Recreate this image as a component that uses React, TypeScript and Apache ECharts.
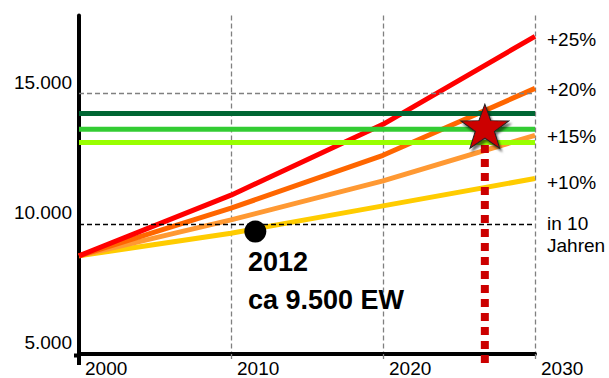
import React, { useEffect, useRef } from "react";
import * as echarts from "echarts";

// ---- data ----
const years = [2000, 2010, 2020, 2030];
const growth25 = [8770, 11100, 13820, 17200];
const growth20 = [8770, 10600, 12630, 15200];
const growth15 = [8770, 10150, 11650, 13400];
const growth10 = [8770, 9640, 10690, 11740];
const levelDark = 14240;
const levelMid = 13630;
const levelLight = 13120;
const currentPoint = [2011.6, 9700];
const currentLabels = ["2012", "ca 9.500 EW"];
const starPoint = [2026.7, 13750];
const dropLine = [
  [2026.7, 4650],
  [2026.7, 13050],
];
const rightLabels = ["+25%", "+20%", "+15%", "+10%", "in 10\nJahren"];
const yMin = 5000;
const yMax = 18000;
const yInterval = 5000;
const xMin = 2000;
const xMax = 2030;
const xInterval = 10;

const FONT = "'Liberation Sans', Arial, Helvetica, sans-serif";

function starPath(R: number, r: number): string {
  const pts: string[] = [];
  for (let i = 0; i < 10; i++) {
    const a = (-90 + i * 36) * (Math.PI / 180);
    const rad = i % 2 === 0 ? R : r;
    pts.push(`${(rad * Math.cos(a)).toFixed(2)} ${(rad * Math.sin(a)).toFixed(2)}`);
  }
  return "path://M" + pts.join(" L") + " Z";
}

function fmt(v: number): string {
  const s = String(Math.round(v));
  return s.replace(/\B(?=(\d{3})+(?!\d))/g, ".");
}

const zip = (ys: number[]) => years.map((y, i) => [y, ys[i]]);
const flat = (v: number) => [
  [xMin, v],
  [xMax, v],
];

export default function App() {
  const ref = useRef<HTMLDivElement>(null);
  useEffect(() => {
    if (!ref.current) return;
    const chart = echarts.init(ref.current, undefined, { renderer: "svg" });
    const lineSeries = (data: number[][], color: string, z = 2) => ({
      type: "line",
      data,
      symbol: "none",
      silent: true,
      z,
      lineStyle: { color, width: 5, cap: "butt", opacity: 1 },
    });
    chart.setOption({
      animation: false,
      textStyle: { fontFamily: FONT },
      grid: { left: 79, right: 74, top: 15.5, bottom: 22.5, containLabel: false },
      xAxis: {
        type: "value",
        min: xMin,
        max: xMax,
        interval: xInterval,
        axisLine: { show: true, lineStyle: { color: "#000", width: 4 } },
        axisTick: {
          show: true,
          length: 8,
          lineStyle: { color: "#808080", width: 1.3, type: [5, 3] },
        },
        splitLine: {
          show: true,
          lineStyle: { color: "#808080", width: 1.3, type: [5, 3] },
        },
        axisLabel: {
          show: true,
          color: "#000",
          fontSize: 19,
          fontFamily: FONT,
          align: "left",
          margin: 5,
          padding: [0, 0, 0, 6],
          formatter: (v: number) => String(v),
          showMinLabel: true,
          showMaxLabel: true,
        },
      },
      yAxis: {
        type: "value",
        min: yMin,
        max: yMax,
        interval: yInterval,
        axisLine: { show: true, lineStyle: { color: "#000", width: 4 } },
        axisTick: { show: false },
        splitLine: { show: false },
        axisLabel: {
          show: true,
          color: "#000",
          fontSize: 19,
          fontFamily: FONT,
          margin: 7,
          verticalAlign: "bottom",
          padding: [0, 0, 2, 0],
          showMaxLabel: false,
          formatter: (v: number) => (v === yMax ? "" : fmt(v)),
        },
      },
      series: [
        {
          type: "line",
          data: [],
          silent: true,
          z: 1,
          markLine: {
            silent: true,
            symbol: "none",
            label: { show: false },
            data: [
              { yAxis: 15000, lineStyle: { color: "#808080", width: 1.3, type: [5, 3], opacity: 1 } },
              { yAxis: 10000, lineStyle: { color: "#000", width: 1.3, type: [5, 3], opacity: 1 } },
            ],
          },
        },
        lineSeries(zip(growth10), "#FFCC00"),
        lineSeries(zip(growth15), "#FF9933"),
        lineSeries(zip(growth20), "#FF6600"),
        lineSeries(zip(growth25), "#FF0000"),
        lineSeries(flat(levelDark), "#006633", 3),
        lineSeries(flat(levelMid), "#33CC33", 3),
        lineSeries(flat(levelLight), "#99FF00", 3),
        {
          type: "line",
          data: dropLine,
          symbol: "none",
          silent: true,
          clip: false,
          z: 4,
          lineStyle: { color: "#CC0000", width: 8, type: [8, 6], cap: "butt", opacity: 1 },
        },
        {
          type: "scatter",
          data: [currentPoint],
          symbol: "circle",
          symbolSize: 22,
          silent: true,
          z: 5,
          itemStyle: { color: "#000", opacity: 1 },
        },
        {
          type: "scatter",
          data: [starPoint],
          symbol: starPath(25, 10),
          symbolSize: [48, 44],
          silent: true,
          z: 6,
          itemStyle: {
            color: "#CC0000",
            opacity: 1,
            borderColor: "#222",
            borderWidth: 1,
            shadowColor: "rgba(0,0,0,0.55)",
            shadowOffsetX: 2,
            shadowOffsetY: 3,
            shadowBlur: 2,
          },
        },
      ],
      graphic: [
        { type: "rect", shape: { x: 77, y: 354, width: 4, height: 11 }, style: { fill: "#000" }, z: 10 },
        { type: "rect", shape: { x: 74, y: 353.5, width: 7, height: 4 }, style: { fill: "#000" }, z: 10 },
        {
          type: "text",
          x: 248,
          y: 262,
          style: { text: currentLabels[0], font: `bold 27px ${FONT}`, fill: "#000", verticalAlign: "middle" },
          z: 10,
        },
        {
          type: "text",
          x: 248,
          y: 300,
          style: { text: currentLabels[1], font: `bold 27px ${FONT}`, fill: "#000", verticalAlign: "middle" },
          z: 10,
        },
        { type: "text", x: 547, y: 39, style: { text: rightLabels[0], font: `19px ${FONT}`, fill: "#000", verticalAlign: "middle" }, z: 10 },
        { type: "text", x: 547, y: 89, style: { text: rightLabels[1], font: `19px ${FONT}`, fill: "#000", verticalAlign: "middle" }, z: 10 },
        { type: "text", x: 547, y: 136, style: { text: rightLabels[2], font: `19px ${FONT}`, fill: "#000", verticalAlign: "middle" }, z: 10 },
        { type: "text", x: 547, y: 182, style: { text: rightLabels[3], font: `19px ${FONT}`, fill: "#000", verticalAlign: "middle" }, z: 10 },
        {
          type: "text",
          x: 547,
          y: 234.5,
          style: { text: rightLabels[4], font: `19px ${FONT}`, fill: "#000", verticalAlign: "middle", lineHeight: 22.5 },
          z: 10,
        },
      ],
    });
    return () => chart.dispose();
  }, []);
  return <div ref={ref} style={{ width: 609, height: 378, position: "absolute", left: 0, top: 0 }} />;
}
